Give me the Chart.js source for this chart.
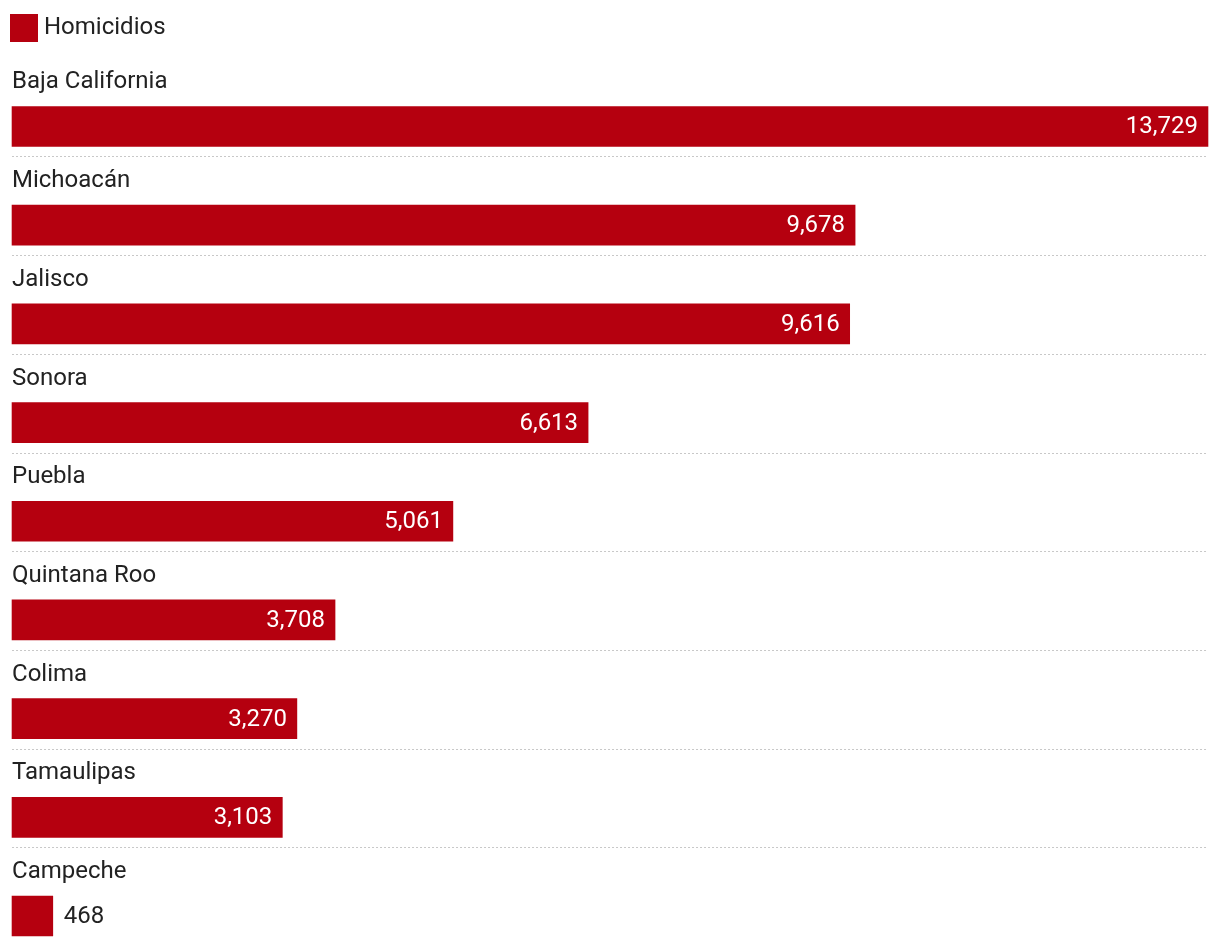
<!DOCTYPE html>
<html>
<head>
<meta charset="utf-8">
<script src="https://cdn.jsdelivr.net/npm/chart.js@4"></script>
<style>
  html, body { margin: 0; padding: 0; background: #fff; }
  #wrap { width: 1220px; height: 946px; }
</style>
</head>
<body>
<div id="wrap"><canvas id="homicidiosChart"></canvas></div>
<script>
// Datos
const estados = ['Baja California', 'Michoacán', 'Jalisco', 'Sonora', 'Puebla', 'Quintana Roo', 'Colima', 'Tamaulipas', 'Campeche'];
const homicidios = [13729, 9678, 9616, 6613, 5061, 3708, 3270, 3103, 468];
const serieNombre = 'Homicidios';

const rojo = '#b5000f';
const fuente = 'Roboto, "Noto Sans", sans-serif';

// Nombre del estado encima de cada barra, cifra en la barra y separadores punteados
const etiquetasPlugin = {
    id: 'etiquetas',
    afterDatasetsDraw(chart) {
        const ctx = chart.ctx;
        const xScale = chart.scales.x;
        const yScale = chart.scales.y;
        const x0 = xScale.getPixelForValue(0);
        const xFin = xScale.getPixelForValue(homicidios[0]);
        const meta = chart.getDatasetMeta(0);
        ctx.save();
        estados.forEach((nombre, i) => {
            const yc = yScale.getPixelForValue(i);
            ctx.font = '24px ' + fuente;
            ctx.fillStyle = '#222';
            ctx.textAlign = 'left';
            ctx.textBaseline = 'middle';
            ctx.fillText(nombre, x0, yc - 44);

            const bar = meta.data[i];
            const texto = homicidios[i].toLocaleString('en-US');
            const ancho = ctx.measureText(texto).width;
            if (bar.x - x0 > ancho + 20) {
                ctx.fillStyle = '#fff';
                ctx.textAlign = 'right';
                ctx.fillText(texto, bar.x - 10, yc + 1);
            } else {
                ctx.fillStyle = '#222';
                ctx.textAlign = 'left';
                ctx.fillText(texto, bar.x + 11, yc + 1);
            }

            if (i < estados.length - 1) {
                const yl = Math.round(yc + 30) + 0.5;
                ctx.strokeStyle = '#c8c8c8';
                ctx.lineWidth = 1;
                ctx.setLineDash([2, 2]);
                ctx.beginPath();
                ctx.moveTo(x0, yl);
                ctx.lineTo(xFin, yl);
                ctx.stroke();
            }
        });
        ctx.restore();
    }
};

const ctx = document.getElementById('homicidiosChart').getContext('2d');
new Chart(ctx, {
    type: 'bar',
    data: {
        datasets: [ {
            label: serieNombre,
            data: homicidios.map((v, i) => ({ x: v, y: i })),
            backgroundColor: rojo,
            borderWidth: 0,
            barThickness: 40
        } ]
    },
    options: {
        indexAxis: 'y',
        responsive: true,
        maintainAspectRatio: false,
        animation: false,
        layout: { padding: 0 },
        scales: {
            x: { type: 'linear', display: false, min: -138, max: 13867 },
            y: { type: 'linear', display: false, offset: false, reverse: true, min: -0.775, max: 8.304 }
        },
        plugins: {
            legend: {
                position: 'top',
                align: 'start',
                labels: {
                    // cuadro de 16 px con borde de 12 px: 28 px visibles
                    boxWidth: 16,
                    boxHeight: 16,
                    padding: 16,
                    color: '#222',
                    font: { family: fuente, size: 24 },
                    generateLabels: (chart) => [ {
                        text: serieNombre,
                        fillStyle: rojo,
                        strokeStyle: rojo,
                        lineWidth: 12,
                        lineJoin: 'miter',
                        fontColor: '#222',
                        datasetIndex: 0
                    } ]
                }
            },
            tooltip: { enabled: false }
        }
    },
    plugins: [etiquetasPlugin]
});
</script>
</body>
</html>
